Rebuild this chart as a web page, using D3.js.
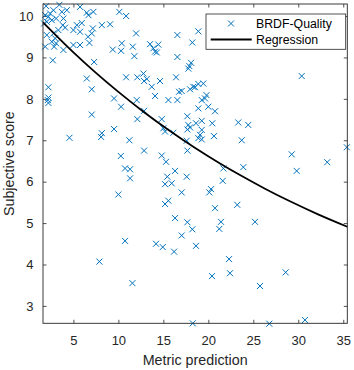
<!DOCTYPE html>
<html><head><meta charset="utf-8">
<script src="https://cdn.jsdelivr.net/npm/d3@7"></script>
<style>html,body{margin:0;padding:0;background:#fff;}svg{display:block;font-family:"Liberation Sans",Arial,Helvetica,sans-serif;}</style>
</head><body><div id="chart"></div>
<script>
// ---- data ----
const metricPrediction = [
1.97,3.44,5.74,2.78,3.71,2.41,4.27,1.86,2.22,6.49,7.22,6.67,10.11,10.86,2.04,1.74,2.60,3.08,3.89,3.82,
4.08,5.00,5.38,5.93,8.16,9.08,7.16,5.74,7.04,6.63,6.78,3.33,2.78,2.04,2.97,2.60,3.08,5.00,5.74,1.86,
2.86,3.89,11.97,9.38,10.38,10.30,11.60,11.78,2.71,7.30,6.49,10.86,12.11,12.78,12.86,2.22,7.04,2.22,2.16,2.22,
9.52,12.04,10.30,12.86,7.04,12.11,9.52,8.16,8.08,4.56,11.22,10.27,12.86,10.74,11.30,11.30,10.00,10.74,7.89,11.56,
16.56,18.89,18.22,13.52,14.44,13.89,14.08,14.27,16.56,18.08,17.89,17.78,13.16,14.63,16.41,13.71,14.08,15.56,16.56,16.74,
17.04,17.97,18.33,18.89,19.44,18.52,19.80,19.63,19.27,18.89,20.00,20.74,14.82,17.67,19.27,17.78,17.97,18.63,20.44,17.67,
15.00,15.19,16.11,19.27,19.08,19.27,18.89,20.63,17.60,23.33,23.71,14.82,15.30,17.67,24.44,16.30,15.44,17.60,15.19,15.93,
17.04,15.56,15.19,21.67,21.60,23.89,20.30,20.11,20.74,23.22,16.30,17.67,18.22,17.04,21.41,21.22,14.19,14.93,16.19,18.63,
22.30,20.41,22.41,18.27,30.38,29.27,33.22,35.40,29.82,25.19,25.74,28.60,26.78,30.74
];
const subjectiveScore = [
10.24,10.27,10.22,10.14,10.10,10.06,10.14,10.02,9.98,10.08,10.10,10.02,10.10,10.00,9.86,9.82,9.90,9.94,9.94,9.78,
9.72,9.66,9.78,9.83,9.78,9.80,9.70,9.62,9.58,9.50,9.35,9.66,9.58,9.54,9.46,9.38,9.34,9.30,9.30,9.26,
9.26,9.18,9.58,9.19,9.34,9.16,9.26,9.03,8.93,8.89,8.49,8.52,8.52,8.61,8.43,8.28,8.23,8.03,7.97,7.90,
8.01,7.97,7.81,7.71,7.62,7.51,7.27,7.17,7.08,7.06,7.00,6.62,6.75,6.32,6.30,6.08,5.69,4.57,4.07,3.55,
9.54,9.63,9.36,9.32,9.31,9.22,9.14,9.12,9.01,8.87,8.79,8.73,8.48,8.43,8.52,8.29,8.07,7.97,7.97,8.17,
8.19,8.23,8.29,8.36,8.37,8.28,8.09,8.01,7.97,7.77,7.81,7.70,7.51,7.58,7.47,7.37,7.31,7.41,7.41,7.26,
7.29,7.21,7.18,7.25,7.13,7.02,7.05,7.10,6.99,7.43,7.00,6.63,6.48,6.75,7.37,6.26,6.12,6.12,5.94,5.96,
5.74,5.54,5.46,6.32,6.02,6.35,5.82,5.74,5.36,5.44,5.12,5.02,4.85,4.70,5.03,4.86,4.50,4.42,4.31,4.45,
4.13,3.72,3.79,2.58,8.55,6.66,6.47,6.83,6.26,5.03,3.48,3.81,2.57,2.66
];
// regression curve, sampled along the drawn line
const regressionX = [1.62, 5.0, 7.22, 10.0, 12.86, 15.74, 18.5, 21.3, 23.52, 26.3, 29.08, 32.2, 35.45];
const regressionY = [9.845, 9.121, 8.681, 8.168, 7.678, 7.223, 6.818, 6.439, 6.159, 5.830, 5.526, 5.211, 4.912];
const xTicks = [5, 10, 15, 20, 25, 30, 35];
const yTicks = [3, 4, 5, 6, 7, 8, 9, 10];
const xDomain = [1.62, 35.45];
const yDomain = [2.58, 10.29];
const seriesNames = ["BRDF-Quality", "Regression"];
const xLabel = "Metric prediction";
const yLabel = "Subjective score";

// ---- drawing ----
const W = 354, H = 370;
const plot = {left: 43, right: 347.3, top: 4, bottom: 323.3};
const blue = "#0072BD", axisCol = "#262626";
const svg = d3.select("#chart").append("svg").attr("width", W).attr("height", H);
const x = d3.scaleLinear().domain(xDomain).range([plot.left, plot.right]);
const y = d3.scaleLinear().domain(yDomain).range([plot.bottom, plot.top]);

svg.append("rect").attr("x", plot.left).attr("y", plot.top)
  .attr("width", plot.right - plot.left).attr("height", plot.bottom - plot.top).attr("fill", "#fff");

const tickLen = 3.5;
const gx = svg.append("g").attr("transform", `translate(0,${plot.bottom})`)
  .call(d3.axisBottom(x).tickValues(xTicks).tickSizeInner(-tickLen).tickSizeOuter(0).tickPadding(12));
const gxt = svg.append("g").attr("transform", `translate(0,${plot.top})`)
  .call(d3.axisTop(x).tickValues(xTicks).tickSizeInner(-tickLen).tickSizeOuter(0).tickFormat(""));
const gy = svg.append("g").attr("transform", `translate(${plot.left},0)`)
  .call(d3.axisLeft(y).tickValues(yTicks).tickSizeInner(-tickLen).tickSizeOuter(0).tickPadding(9.5));
const gyr = svg.append("g").attr("transform", `translate(${plot.right},0)`)
  .call(d3.axisRight(y).tickValues(yTicks).tickSizeInner(-tickLen).tickSizeOuter(0).tickFormat(""));

[gx, gxt, gy, gyr].forEach(g => {
  g.select(".domain").remove();
  g.selectAll(".tick line").attr("stroke", axisCol).attr("stroke-width", 0.8);
  g.selectAll(".tick text").attr("fill", axisCol).attr("font-size", 13)
    .attr("font-family", "Liberation Sans, Arial, sans-serif");
});

// scatter markers
const pts = metricPrediction.map((v, i) => ({x: v, y: subjectiveScore[i]}));
const s = 3;
svg.append("g").selectAll("path").data(pts).join("path")
  .attr("d", d => {
    const cx = x(d.x), cy = y(d.y);
    return `M${cx - s},${cy - s}L${cx + s},${cy + s}M${cx - s},${cy + s}L${cx + s},${cy - s}`;
  })
  .attr("stroke", blue).attr("stroke-width", 1).attr("fill", "none");

// regression curve
const reg = regressionX.map((v, i) => [v, regressionY[i]]);
svg.append("path").datum(reg)
  .attr("d", d3.line().x(d => x(d[0])).y(d => y(d[1])).curve(d3.curveMonotoneX))
  .attr("fill", "none").attr("stroke", "#000").attr("stroke-width", 1.8);

// frame
svg.append("rect").attr("x", plot.left).attr("y", plot.top)
  .attr("width", plot.right - plot.left).attr("height", plot.bottom - plot.top)
  .attr("fill", "none").attr("stroke", axisCol).attr("stroke-width", 0.9);

// axis labels
svg.append("text").attr("x", (plot.left + plot.right) / 2).attr("y", 364.5)
  .attr("text-anchor", "middle").attr("font-size", 14.3).attr("fill", axisCol).text(xLabel);
svg.append("text").attr("transform", `translate(14,${(plot.top + plot.bottom) / 2}) rotate(-90)`)
  .attr("text-anchor", "middle").attr("font-size", 14.3).attr("fill", axisCol).text(yLabel);

// legend
const lg = svg.append("g");
lg.append("rect").attr("x", 206).attr("y", 14).attr("width", 139.7).attr("height", 35.3)
  .attr("fill", "#fff").attr("stroke", axisCol).attr("stroke-width", 0.8);
const lx = 231, ly1 = 23.5, ly2 = 39.5;
lg.append("path").attr("d", `M${lx - s},${ly1 - s}L${lx + s},${ly1 + s}M${lx - s},${ly1 + s}L${lx + s},${ly1 - s}`)
  .attr("stroke", blue).attr("stroke-width", 1).attr("fill", "none");
lg.append("line").attr("x1", 210.7).attr("x2", 251.7).attr("y1", ly2).attr("y2", ly2)
  .attr("stroke", "#000").attr("stroke-width", 1.8);
lg.append("text").attr("x", 256).attr("y", ly1 + 0.3).attr("dy", "0.35em").attr("font-size", 12.3)
  .attr("fill", "#000").text(seriesNames[0]);
lg.append("text").attr("x", 256).attr("y", ly2 + 0.3).attr("dy", "0.35em").attr("font-size", 12.3)
  .attr("fill", "#000").text(seriesNames[1]);
</script>
</body></html>
